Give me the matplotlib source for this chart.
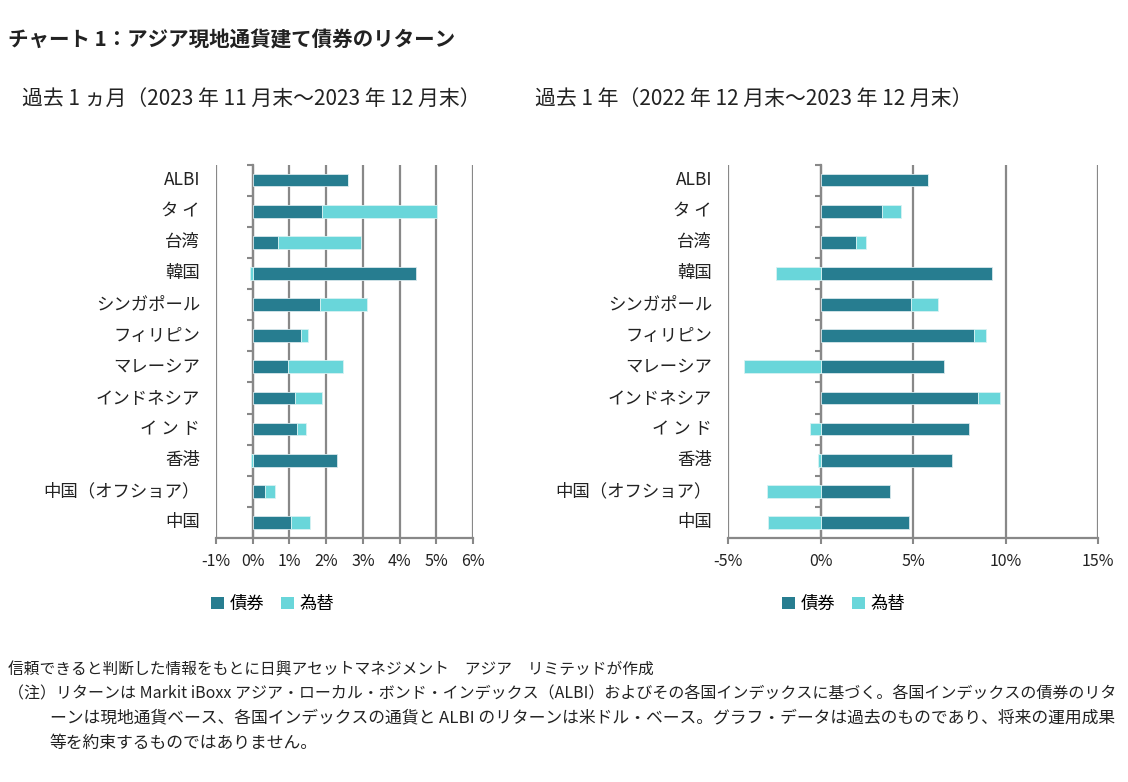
import matplotlib
matplotlib.use("Agg")
import matplotlib.pyplot as plt
import matplotlib.transforms as mtransforms
from matplotlib.patches import Patch
import numpy as np

plt.rcParams['font.family'] = ['Noto Sans CJK JP', 'DejaVu Sans']

categories = ["ALBI", "タ イ", "台湾", "韓国", "シンガポール", "フィリピン", "マレーシア",
              "インドネシア", "イ ン ド", "香港", "中国（オフショア）", "中国"]

# 過去1ヵ月 (%)
bond_1m = [2.60, 1.89, 0.68, 4.46, 1.83, 1.32, 0.97, 1.15, 1.21, 2.30, 0.34, 1.05]
fx_1m   = [0.00, 3.12, 2.27, -0.07, 1.29, 0.19, 1.48, 0.74, 0.23, -0.04, 0.27, 0.50]

# 過去1年 (%)
bond_1y = [5.80, 3.32, 1.91, 9.27, 4.88, 8.31, 6.65, 8.54, 8.00, 7.13, 3.76, 4.79]
fx_1y   = [0.00, 1.05, 0.53, -2.39, 1.46, 0.65, -4.12, 1.14, -0.58, -0.15, -2.87, -2.84]

xticks_1m = [-1, 0, 1, 2, 3, 4, 5, 6]
xticks_1y = [-5, 0, 5, 10, 15]

title = "チャート 1：アジア現地通貨建て債券のリターン"
sub_1m = "過去 1 ヵ月（2023 年 11 月末～2023 年 12 月末）"
sub_1y = "過去 1 年（2022 年 12 月末～2023 年 12 月末）"
legend_labels = ["債券", "為替"]
notes = [
    "信頼できると判断した情報をもとに日興アセットマネジメント　アジア　リミテッドが作成",
    "（注）リターンは Markit iBoxx アジア・ローカル・ボンド・インデックス（ALBI）およびその各国インデックスに基づく。各国インデックスの債券のリタ",
    "ーンは現地通貨ベース、各国インデックスの通貨と ALBI のリターンは米ドル・ベース。グラフ・データは過去のものであり、将来の運用成果",
    "等を約束するものではありません。",
]

DARK = "#277D90"
LIGHT = "#69D6DA"
GRID = "#888888"
TXT = "#222222"

W, H = 1128, 782
fig = plt.figure(figsize=(W / 100, H / 100), dpi=100)


def px(x0, x1, ytop, ybot):
    return [x0 / W, 1 - ybot / H, (x1 - x0) / W, (ybot - ytop) / H]


def draw(ax, bond, fx, xticks, label_x_px):
    bond = np.array(bond)
    fx = np.array(fx)
    y = np.arange(len(categories))
    h = 0.41
    ax.barh(y, bond, height=h, color=DARK, edgecolor="#d8e8ec", linewidth=0.6, zorder=3)
    left = np.where(fx >= 0, bond, 0)
    ax.barh(y, fx, left=left, height=h, color=LIGHT, edgecolor="#d8f2f3", linewidth=0.6, zorder=3)
    ax.set_xlim(xticks[0], xticks[-1])
    ax.set_ylim(len(categories) - 0.5, -0.5)
    ax.set_xticks(xticks)
    ax.set_xticklabels([f"{t}%" for t in xticks], fontsize=11.5, color=TXT)
    ax.tick_params(axis='x', direction='out', length=4, width=1.5, color=GRID, pad=7)
    for t in xticks:
        ax.axvline(t, color=GRID, lw=1.6, zorder=1)
    for s in ['top', 'right']:
        ax.spines[s].set_visible(False)
    ax.spines['bottom'].set_color(GRID)
    ax.spines['bottom'].set_linewidth(1.6)
    ax.spines['left'].set_position(('data', 0))
    ax.spines['left'].set_color(GRID)
    ax.spines['left'].set_linewidth(1.6)
    ax.set_yticks(np.arange(-0.5, len(categories) - 0.5, 1.0))
    ax.set_yticklabels([])
    ax.tick_params(axis='y', direction='out', length=4, width=1.5, color=GRID)
    trans = mtransforms.blended_transform_factory(fig.transFigure, ax.transData)
    for i, c in enumerate(categories):
        ax.text(label_x_px / W, i, c, transform=trans, ha='right', va='center',
                fontsize=12.5, color=TXT)


ax1 = fig.add_axes(px(216, 473, 164.5, 538))
draw(ax1, bond_1m, fx_1m, xticks_1m, 200)
ax2 = fig.add_axes(px(728, 1098, 164.5, 538))
draw(ax2, bond_1y, fx_1y, xticks_1y, 712)

handles = [Patch(facecolor=DARK, edgecolor='none'), Patch(facecolor=LIGHT, edgecolor='none')]
for xl in (211, 782):
    fig.legend(handles, legend_labels, loc='center left', bbox_to_anchor=(xl / W, 1 - 604 / H),
               ncol=2, frameon=False, fontsize=12.5, handlelength=0.75, handleheight=0.75,
               handletextpad=0.3, columnspacing=1.0, borderaxespad=0, borderpad=0)

fig.text(8 / W, 1 - 40 / H, title, fontsize=14.8, fontweight='bold', color=TXT, va='center', ha='left')
fig.text(22 / W, 1 - 99 / H, sub_1m, fontsize=15, color=TXT, va='center', ha='left')
fig.text(535 / W, 1 - 99 / H, sub_1y, fontsize=15, color=TXT, va='center', ha='left')

fig.text(8 / W, 1 - 670 / H, notes[0], fontsize=11.3, color=TXT, va='center', ha='left')
fig.text(8 / W, 1 - 694 / H, notes[1], fontsize=11.5, color=TXT, va='center', ha='left')
fig.text(50 / W, 1 - 718 / H, notes[2], fontsize=12.1, color=TXT, va='center', ha='left')
fig.text(50 / W, 1 - 743 / H, notes[3], fontsize=12.1, color=TXT, va='center', ha='left')

fig.savefig("out.png", dpi=100, facecolor='white')
